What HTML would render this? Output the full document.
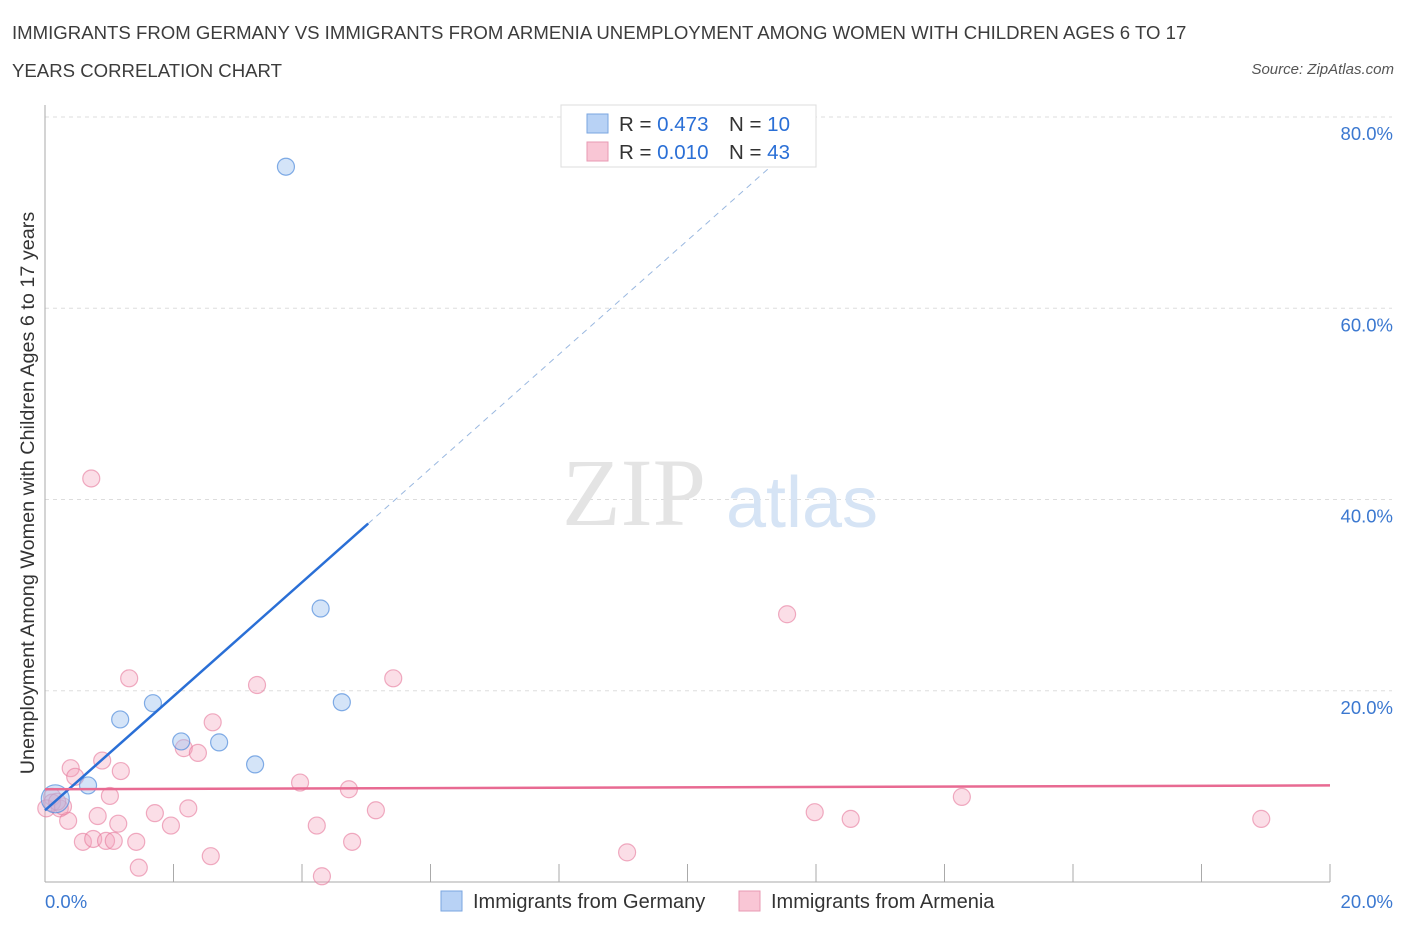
<!DOCTYPE html>
<html><head><meta charset="utf-8">
<style>
body{margin:0;background:#fff;font-family:"Liberation Sans",sans-serif;}
#wrap{position:relative;width:1406px;height:930px;overflow:hidden;}
.t{position:absolute;color:#3c3c3c;}
</style></head><body>
<div id="wrap">
<div class="t" style="left:12px;top:14px;font-size:18.6px;line-height:38px;width:1200px;">IMMIGRANTS FROM GERMANY VS IMMIGRANTS FROM ARMENIA UNEMPLOYMENT AMONG WOMEN WITH CHILDREN AGES 6 TO 17 YEARS CORRELATION CHART</div>
<div class="t" style="right:12px;top:61px;font-size:15px;font-style:italic;color:#555;">Source: ZipAtlas.com</div>
<svg id="svg" width="1406" height="930" style="position:absolute;left:0;top:0"></svg>
</div>
<script>
const yTicks=[20,40,60,80];
const yTickLabels=["20.0%","40.0%","60.0%","80.0%"];
const germanyX=[3.75,4.29,4.62,1.68,1.17,2.12,2.71,3.27,0.67,0.16];
const germanyY=[74.8,28.6,18.8,18.7,17.0,14.7,14.6,12.3,10.1,8.7];
const armeniaX=[0.72,11.55,1.31,5.42,3.30,2.61,2.16,2.38,0.89,1.18,0.40,0.47,3.97,4.73,1.01,14.27,0.11,0.23,1.71,2.23,5.15,11.98,12.54,18.93,0.82,0.36,1.14,1.96,4.23,0.59,0.75,0.95,1.07,1.42,4.78,2.58,9.06,1.46,4.31,0.02,0.11,0.28,0.19];
const armeniaY=[42.2,28.0,21.3,21.3,20.6,16.7,14.0,13.5,12.7,11.6,11.9,11.0,10.4,9.7,9.0,8.9,8.9,7.7,7.2,7.7,7.5,7.3,6.6,6.6,6.9,6.4,6.1,5.9,5.9,4.2,4.5,4.3,4.3,4.2,4.2,2.7,3.1,1.5,0.6,7.7,8.3,7.9,8.4];
const germanyTrend=[0.0,7.5,20.0,126.7]; // x0,y0,x1,y1
const armeniaTrend=[0.0,9.7,20.0,10.1];
const X0=45,X1=1330,Y0=882,YS=191.25/20;
const sx=v=>X0+(X1-X0)*v/20, sy=v=>Y0-v*YS;
const svg=document.getElementById('svg'),NS='http://www.w3.org/2000/svg';
function mk(tag,at){const e=document.createElementNS(NS,tag);for(const k in at)e.setAttribute(k,at[k]);svg.appendChild(e);return e;}
yTicks.forEach((v,i)=>{
 const g=mk('line',{x1:45,x2:1392,y1:sy(v),y2:sy(v),stroke:'#ddd','stroke-dasharray':'4,4'});
 
 
 const t=mk('text',{x:1393,y:sy(v)+23,'text-anchor':'end','font-size':18.5,fill:'#3b78d0','font-family':'Liberation Sans'});
 t.textContent=yTickLabels[i];
 
 
});
const ax=mk('line',{x1:45,x2:1330,y1:882,y2:882,stroke:'#aaa'});


const ay=mk('line',{x1:45,x2:45,y1:105,y2:882,stroke:'#aaa'});


for(let i=1;i<=10;i++){const tk=mk('line',{x1:sx(i*2),x2:sx(i*2),y1:864,y2:882,stroke:'#aaa'});
 
 }
[["0.0%",45,'start'],["20.0%",1393,'end']].forEach(a=>{const t=mk('text',{x:a[1],y:908,'text-anchor':a[2],'font-size':18.5,fill:'#3b78d0','font-family':'Liberation Sans'});t.textContent=a[0];
 
 });
const yt=mk('text',{transform:'translate(34,493) rotate(-90)','text-anchor':'middle','font-size':19.8,fill:'#333','font-family':'Liberation Sans'});
yt.textContent='Unemployment Among Women with Children Ages 6 to 17 years';


const w1=mk('text',{x:634,y:525,'text-anchor':'middle','font-size':96,fill:'#e4e4e4','font-family':'Liberation Serif'});w1.textContent='ZIP';


const w2=mk('text',{x:802,y:527,'text-anchor':'middle','font-size':72,fill:'#d6e4f5','font-family':'Liberation Sans'});w2.textContent='atlas';


armeniaX.forEach((x,i)=>{const c=mk('circle',{cx:sx(x),cy:sy(armeniaY[i]),r:8.5,fill:'rgba(244,160,185,0.35)',stroke:'rgba(230,120,155,0.6)','stroke-width':1.2});
 
 });
germanyX.forEach((x,i)=>{const c=mk('circle',{cx:sx(x),cy:sy(germanyY[i]),r:i==9?14:8.5,fill:'rgba(160,195,240,0.45)',stroke:'rgba(80,140,220,0.7)','stroke-width':1.2});
 
 });
const gsl=(germanyTrend[3]-germanyTrend[1])/(germanyTrend[2]-germanyTrend[0]);
const gy=x=>germanyTrend[1]+gsl*(x-germanyTrend[0]);
const xs=5.03,xe=12.0;
const l1=mk('line',{x1:sx(0),y1:sy(gy(0)),x2:sx(xs),y2:sy(gy(xs)),stroke:'#2a6fd6','stroke-width':2.5});


const l2=mk('line',{x1:sx(xs),y1:sy(gy(xs)),x2:sx(xe),y2:sy(gy(xe)),stroke:'#9ab8e0','stroke-width':1,'stroke-dasharray':'6,5'});


const l3=mk('line',{x1:sx(armeniaTrend[0]),y1:sy(armeniaTrend[1]),x2:sx(armeniaTrend[2]),y2:sy(armeniaTrend[3]),stroke:'#e86a92','stroke-width':2.5});


const lb=mk('rect',{x:561,y:105,width:255,height:62,fill:'#fff',stroke:'#ddd'});


[['#b8d2f5','#7aa6e0','0.473','10',123],['#f9c6d5','#e89ab3','0.010','43',151]].forEach(r=>{
 const s=mk('rect',{x:587,y:r[4]-9,width:21,height:19,fill:r[0],stroke:r[1]});
 
 
 const t=mk('text',{x:619,y:r[4]+8,'font-size':20.5,fill:'#333','font-family':'Liberation Sans'});
 t.innerHTML='R = <tspan fill="#2a6fd6">'+r[2]+'</tspan><tspan x="729">N = </tspan><tspan fill="#2a6fd6">'+r[3]+'</tspan>';
 
 
});
[['#b8d2f5','#7aa6e0','Immigrants from Germany',441],['#f9c6d5','#e89ab3','Immigrants from Armenia',739]].forEach(r=>{
 const s=mk('rect',{x:r[3],y:891,width:21,height:20,fill:r[0],stroke:r[1]});
 
 
 const t=mk('text',{x:r[3]+32,y:908,'font-size':20,fill:'#333','font-family':'Liberation Sans'});t.textContent=r[2];
 
 
});
</script>
</body></html>
